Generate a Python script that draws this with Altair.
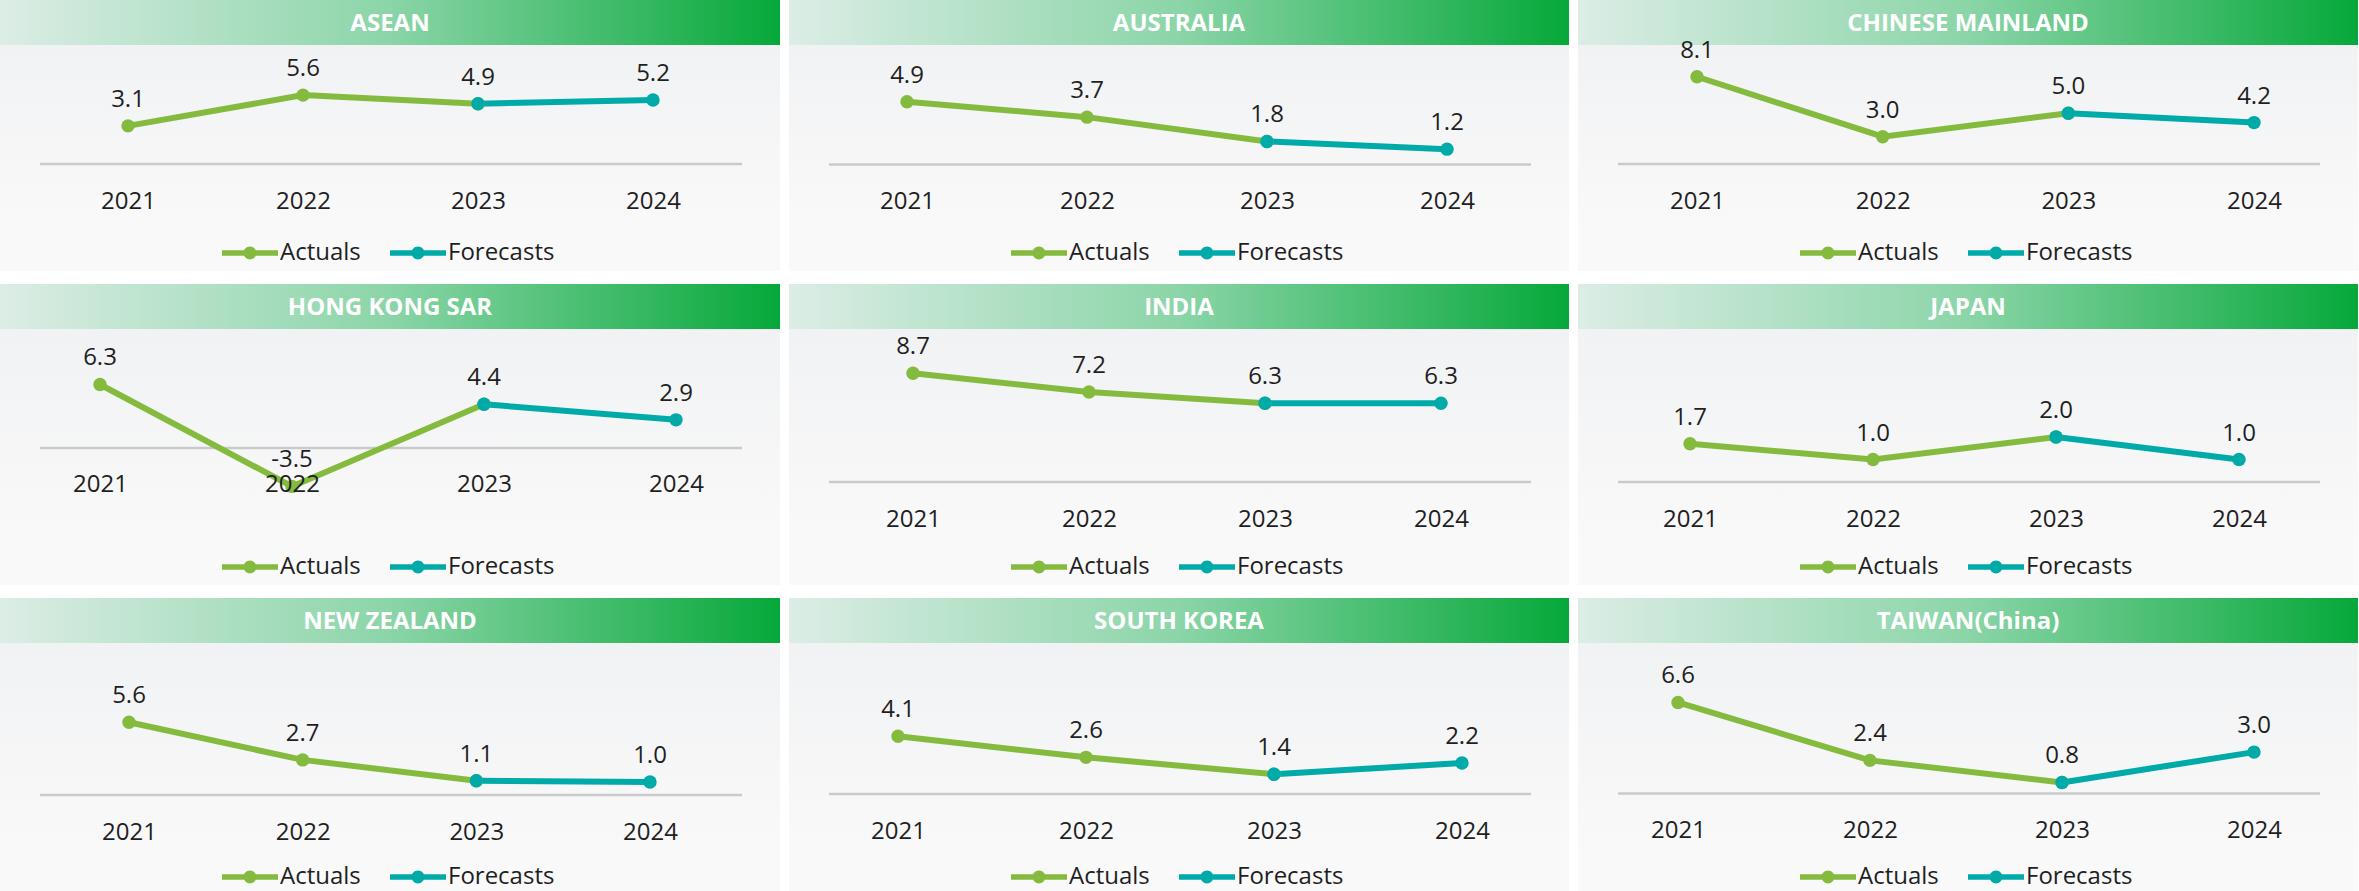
import altair as alt
import pandas as pd

# ---------------- data ----------------
regions = ["ASEAN", "AUSTRALIA", "CHINESE MAINLAND",
           "HONG KONG SAR", "INDIA", "JAPAN",
           "NEW ZEALAND", "SOUTH KOREA", "TAIWAN(China)"]
years = ["2021", "2022", "2023", "2024"]
asean = [3.1, 5.6, 4.9, 5.2]
australia = [4.9, 3.7, 1.8, 1.2]
chinese_mainland = [8.1, 3.0, 5.0, 4.2]
hong_kong = [6.3, -3.5, 4.4, 2.9]
india = [8.7, 7.2, 6.3, 6.3]
japan = [1.7, 1.0, 2.0, 1.0]
new_zealand = [5.6, 2.7, 1.1, 1.0]
south_korea = [4.1, 2.6, 1.4, 2.2]
taiwan = [6.6, 2.4, 0.8, 3.0]
all_values = [asean, australia, chinese_mainland, hong_kong, india, japan,
              new_zealand, south_korea, taiwan]
series_names = ["Actuals", "Forecasts"]
actual_years = ["2021", "2022", "2023"]
forecast_years = ["2023", "2024"]

# ---------------- style / layout ----------------
colors = ["#84bb3f", "#00aaa8"]
TEXT = "#1f1f1f"
FONT = "Open Sans"
W = 780
HEADER_H = 45
row_heights = [271, 301, 293]
# per panel: first x, last x, zero px, px per unit, baseline value, legend centre y
layout = [
    (128, 653, 164, 12.3, 0.0, 253),
    (118, 658, 164.5, 12.8, 0.0, 253),
    (119, 676, 172, 11.76, 0.68, 253),
    (100, 676, 166, 10.4, 0.2, 283),
    (124, 652, 198, 12.5, 0.0, 283),
    (112, 661, 198, 22.5, 0.0, 283),
    (129, 650, 197, 13.0, 0.0, 279),
    (109, 673, 196, 14.1, 0.0, 279),
    (100, 676, 195.5, 13.8, 0.0, 279),
]
BG_BOTTOM = "#f9f9fa"

header_grad = alt.LinearGradient(
    gradient="linear", x1=0, x2=1, y1=0, y2=0,
    stops=[alt.GradientStop(color="#dcede6", offset=0),
           alt.GradientStop(color="#8bd5a8", offset=0.5),
           alt.GradientStop(color="#06a83a", offset=1)])
bg_grad = alt.LinearGradient(
    gradient="linear", x1=0, x2=0, y1=0, y2=1,
    stops=[alt.GradientStop(color="#f1f2f3", offset=0),
           alt.GradientStop(color=BG_BOTTOM, offset=1)])

LEGEND_PATH = ("M-1,-0.1L1,-0.1L1,0.1L-1,0.1Z "
               "M0.23,0A0.23,0.23,0,1,1,-0.23,0A0.23,0.23,0,1,1,0.23,0Z")


def panel(name, vals, lay, H):
    x0, x1, zero, ppu, base, leg_y = lay
    base_px = zero - ppu * base
    rows = []
    for s, yrs in (("Actuals", actual_years), ("Forecasts", forecast_years)):
        for y in yrs:
            rows.append({"year": y, "value": vals[years.index(y)], "series": s})
    df_pts = pd.DataFrame(rows)
    df_act = df_pts[df_pts["series"] == "Actuals"]
    df_fc = df_pts[df_pts["series"] == "Forecasts"]
    df_lab = pd.DataFrame({"year": years, "value": vals,
                           "label": [f"{v:.1f}" for v in vals]})

    axis = alt.Axis(orient="bottom", offset=-(H - base_px), domain=False, ticks=False,
                    tickSize=0, grid=False, labelAngle=0, labelPadding=37,
                    labelBaseline="middle", labelFontSize=24, labelColor=TEXT,
                    labelFont=FONT, title=None, labelOverlap=False, zindex=2)
    xenc = alt.X("year:O", scale=alt.Scale(type="point", domain=years,
                                           range=[x0, x1], padding=0), axis=axis)
    yscale = alt.Scale(domain=[0, 10], range=[zero, zero - 10 * ppu])
    yenc = alt.Y("value:Q", scale=yscale, axis=None)

    one = pd.DataFrame({"title": [name], "b": [base]})
    bg = alt.Chart(one).mark_rect(fill=bg_grad, strokeWidth=0).encode(
        x=alt.value(0), x2=alt.value(W), y=alt.value(HEADER_H),
        y2=alt.value(leg_y - 30))
    header = alt.Chart(one).mark_rect(fill=header_grad, strokeWidth=0).encode(
        x=alt.value(0), x2=alt.value(W), y=alt.value(0), y2=alt.value(HEADER_H))
    title = alt.Chart(one).mark_text(fontSize=24, fontWeight="bold", color="white",
                                     font=FONT, align="center", baseline="middle").encode(
        text="title:N", x=alt.value(W / 2), y=alt.value(HEADER_H / 2 + 1))
    rule = alt.Chart(one).mark_rule(color="#c9cacc", strokeWidth=2.5).encode(
        x=alt.value(40), x2=alt.value(742),
        y=alt.Y("b:Q", scale=yscale, axis=None))
    line_act = alt.Chart(df_act).mark_line(strokeWidth=6, color=colors[0]).encode(
        x=xenc, y=yenc)
    line_fc = alt.Chart(df_fc).mark_line(strokeWidth=6, color=colors[1]).encode(
        x=xenc, y=yenc)
    pts = alt.Chart(df_pts).mark_point(filled=True, size=180, opacity=1).encode(
        x=xenc, y=yenc,
        fill=alt.Fill("series:N", scale=alt.Scale(domain=series_names, range=colors),
                      legend=alt.Legend(orient="none", legendX=222, legendY=leg_y - 28,
                                        direction="horizontal", title=None,
                                        symbolType=LEGEND_PATH, symbolSize=3136,
                                        symbolStrokeWidth=0, symbolOpacity=1,
                                        labelFontSize=24, labelColor=TEXT, labelFont=FONT,
                                        labelOffset=2, columnPadding=29, padding=0,
                                        zindex=2)))
    labels = alt.Chart(df_lab).mark_text(dy=-26, fontSize=24, color=TEXT, font=FONT,
                                         align="center", baseline="middle").encode(
        x=xenc, y=yenc, text="label:N")
    return alt.layer(bg, header, title, rule, line_act, line_fc, pts, labels).properties(
        width=W, height=H, view=alt.ViewBackground(fill=BG_BOTTOM, strokeWidth=0))


panels = [panel(regions[i], all_values[i], layout[i], row_heights[i // 3])
          for i in range(9)]

chart = alt.concat(*panels, columns=3).properties(
    spacing={"row": 13, "column": 9}, align="each",
    padding=0, background="white"
).resolve_scale(
    x="independent", y="independent", fill="independent"
).resolve_legend(fill="independent").configure(font=FONT).configure_view(strokeWidth=0)

chart.save("out.html", embed_options={"renderer": "svg", "actions": False})
